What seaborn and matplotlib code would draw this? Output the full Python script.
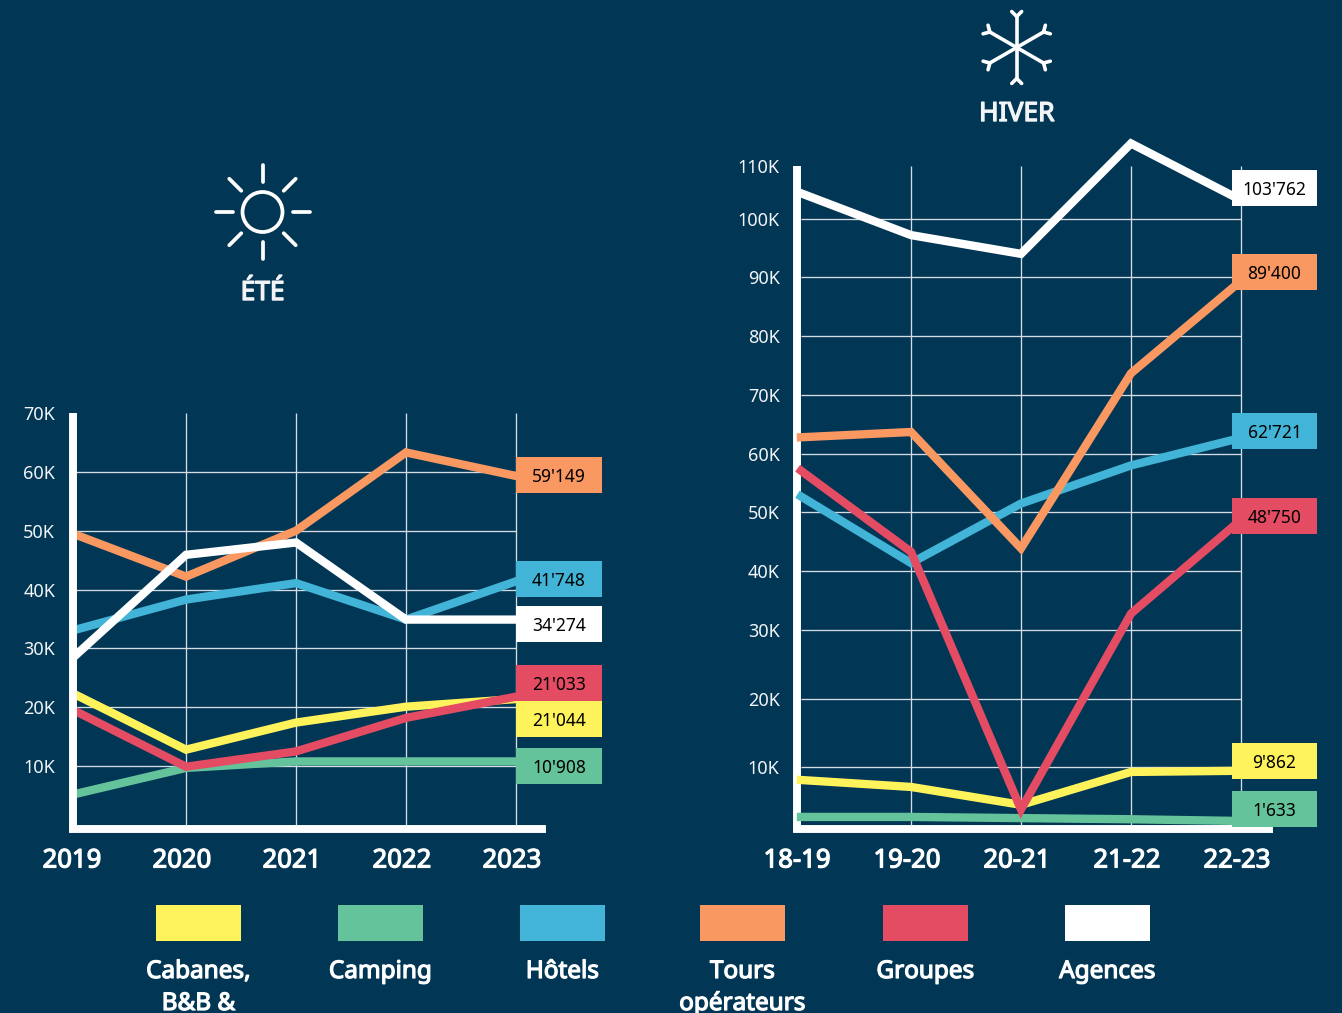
import numpy as np
import pandas as pd
import seaborn as sns
import matplotlib.pyplot as plt
import matplotlib.patheffects as pe
from matplotlib.patches import Rectangle, Circle
from matplotlib.transforms import ScaledTranslation

W, H = 1342, 1013
BG = "#013655"

series = ["Cabanes", "Camping", "Hôtels", "Tours", "Groupes", "Agences"]
colors = ["#FFF35C", "#65C39B", "#41B4D7", "#FA9862", "#E34C62", "#FFFFFF"]
legend_labels = ["Cabanes,\nB&B &", "Camping", "Hôtels", "Tours\nopérateurs", "Groupes", "Agences"]

# values in thousands
summer_years = ["2019", "2020", "2021", "2022", "2023"]
summer_cabanes = [22.1, 12.8, 17.4, 20.1, 21.4]
summer_camping = [5.3, 9.7, 10.8, 10.8, 10.8]
summer_hotels = [33.2, 38.3, 41.1, 34.9, 41.4]
summer_tours = [49.3, 42.2, 50.0, 63.3, 59.3]
summer_groupes = [19.3, 9.9, 12.5, 18.2, 21.8]
summer_agences = [28.9, 45.9, 48.0, 34.9, 34.9]
summer_ticks = [10, 20, 30, 40, 50, 60, 70]
summer_labels = ["59'149", "41'748", "34'274", "21'033", "21'044", "10'908"]
summer_label_series = ["Tours", "Hôtels", "Agences", "Groupes", "Cabanes", "Camping"]

winter_seasons = ["18-19", "19-20", "20-21", "21-22", "22-23"]
winter_cabanes = [7.8, 6.6, 3.5, 9.2, 9.4]
winter_camping = [1.4, 1.4, 1.2, 1.0, 0.7]
winter_hotels = [52.7, 41.4, 51.5, 58.0, 62.7]
winter_tours = [62.8, 63.7, 43.9, 73.7, 89.4]
winter_groupes = [57.1, 43.3, 2.7, 32.8, 48.75]
winter_agences = [104.8, 97.2, 94.0, 114.2, 103.5]
winter_ticks = [10, 20, 30, 40, 50, 60, 70, 80, 90, 100, 110]
winter_labels = ["103'762", "89'400", "62'721", "48'750", "9'862", "1'633"]
winter_label_series = ["Agences", "Tours", "Hôtels", "Groupes", "Cabanes", "Camping"]

# the winter axis of the original is not evenly spaced
winter_scale_val = [-10, 0, 10, 20, 30, 40, 50, 60, 70, 80, 90, 100, 110, 130]
winter_scale_px = [882.7, 825, 767.3, 699, 630, 571.3, 512.3, 453.7, 395, 336.3, 277.3, 218.7, 165.7, 59.7]

# top edge of the value boxes, in pixels
summer_box_top = [457, 561, 606, 665, 701, 748]
winter_box_top = [170, 254, 413, 498, 743, 791]

palette = dict(zip(series, colors))
# this Noto Sans has no bold face, thicken with a stroke instead
BOLD = [pe.withStroke(linewidth=0.9, foreground="white")]


def long_table(periods, columns):
    df = pd.DataFrame(dict(zip(series, columns)))
    df["period"] = periods
    return df.melt(id_vars="period", var_name="type", value_name="value")


def px_axes(left, top, right, bottom):
    return fig.add_axes([left / W, 1 - bottom / H, (right - left) / W, (bottom - top) / H])


def draw_panel(ax, df, ticks, x_px0, x_end_px, ax_left_px):
    sns.lineplot(data=df, x="period", y="value", hue="type", hue_order=series, palette=palette,
                 linewidth=6, legend=False, ax=ax, clip_on=False, sort=False,
                 solid_capstyle="projecting", solid_joinstyle="miter", zorder=3)
    ax.set_xlim((ax_left_px - x_px0) / 110, (x_end_px - x_px0) / 110)
    ax.vlines(range(1, 5), ax.get_ylim()[0], ticks[-1], color="#d5dce2", lw=0.95, zorder=1)
    ax.hlines(ticks[:-1], 0, 4, color="#d5dce2", lw=0.95, zorder=1)
    ax.set_yticks(ticks, [f"{t}K" for t in ticks])
    ax.set_xlabel("")
    ax.set_ylabel("")
    ax.tick_params(axis="both", length=0)
    ax.tick_params(axis="y", labelsize=13, labelcolor="#f2f4f6", pad=12.5)
    ax.tick_params(axis="x", labelsize=18.5, labelcolor="white", pad=14)
    for lab in ax.get_xticklabels():
        lab.set_path_effects(BOLD)
        lab.set_transform(lab.get_transform() + ScaledTranslation(-4 / 100, 0, fig.dpi_scale_trans))
    for side in ["top", "right"]:
        ax.spines[side].set_visible(False)
    for side in ["left", "bottom"]:
        ax.spines[side].set_color("white")
        ax.spines[side].set_linewidth(5.7)
        ax.spines[side].set_capstyle("projecting" if side == "bottom" else "butt")


sns.set_theme(style="dark", rc={"axes.facecolor": BG, "figure.facecolor": BG})
plt.rcParams["font.family"] = ["Noto Sans", "DejaVu Sans"]

fig = plt.figure(figsize=(W / 100, H / 100), dpi=100)

# ete
ax1 = px_axes(72.5, 413, 542, 829)
ax1.set_ylim(-0.68, 70)
draw_panel(ax1, long_table(summer_years, [summer_cabanes, summer_camping, summer_hotels,
                                          summer_tours, summer_groupes, summer_agences]),
           summer_ticks, 76, 542, 72.5)
ax1.set_ylim(-0.68, 70)
for sp in ax1.spines.values():
    sp.set_zorder(4)

# hiver
ax2 = px_axes(797, 165.7, 1269, 829)


def winter_fwd(v):
    return -np.interp(v, winter_scale_val, winter_scale_px)


def winter_inv(p):
    return np.interp(-np.asarray(p), winter_scale_px[::-1], winter_scale_val[::-1])


ax2.set_yscale("function", functions=(winter_fwd, winter_inv))
ax2.set_ylim(-0.69, 110)
draw_panel(ax2, long_table(winter_seasons, [winter_cabanes, winter_camping, winter_hotels,
                                            winter_tours, winter_groupes, winter_agences]),
           winter_ticks, 801, 1269, 797)
ax2.set_ylim(-0.69, 110)
for sp in ax2.spines.values():
    sp.set_zorder(2)

# everything else in pixel coordinates on a full overlay
ov = fig.add_axes([0, 0, 1, 1], zorder=10)
ov.set_xlim(0, W)
ov.set_ylim(H, 0)
ov.axis("off")


def value_boxes(x0, x1, tops, names, texts):
    for top, name, txt in zip(tops, names, texts):
        ov.add_patch(Rectangle((x0, top), x1 - x0, 36, fc=palette[name], ec="none"))
        ov.text((x0 + x1) / 2, top + 19.5, txt, ha="center", va="center", fontsize=12.5, color="black")


value_boxes(516, 602, summer_box_top, summer_label_series, summer_labels)
value_boxes(1232, 1317, winter_box_top, winter_label_series, winter_labels)

# legend
swatch_left = [156, 338, 520, 700, 883, 1065]
for x, c, lab in zip(swatch_left, colors, legend_labels):
    ov.add_patch(Rectangle((x, 905), 85, 36, fc=c, ec="none"))
    for i, part in enumerate(lab.split("\n")):
        ov.text(x + 42.5, 972 + 32 * i, part, ha="center", va="center", fontsize=17.5, color="white",
                path_effects=BOLD)

# sun
cx, cy = 262.5, 212
ov.add_patch(Circle((cx, cy), 20, fc="none", ec="white", lw=2.7))
for a in np.deg2rad(np.arange(0, 360, 45)):
    ov.plot([cx + 30 * np.cos(a), cx + 47 * np.cos(a)], [cy + 30 * np.sin(a), cy + 47 * np.sin(a)],
            color="white", lw=2.7, solid_capstyle="round")
ov.text(cx, 293, "ÉTÉ", ha="center", va="center", fontsize=19, color="#f2f4f6",
        path_effects=[pe.withStroke(linewidth=1, foreground="#f2f4f6")])

# snowflake
cx, cy = 1016.7, 47.5
for a in np.deg2rad(np.arange(30, 360, 60)):
    ex, ey = cx + 31 * np.cos(a), cy + 31 * np.sin(a)
    ov.plot([cx, ex], [cy, ey], color="white", lw=2.6, solid_capstyle="round")
    for d in np.deg2rad([-45, 45]):
        ov.plot([ex, ex + 7 * np.cos(a + d)], [ey, ey + 7 * np.sin(a + d)], color="white", lw=2.6,
                solid_capstyle="round")
ov.text(cx, 114, "HIVER", ha="center", va="center", fontsize=19, color="#f2f4f6",
        path_effects=[pe.withStroke(linewidth=1, foreground="#f2f4f6")])
ov.set_xlim(0, W)
ov.set_ylim(H, 0)

fig.savefig("out.png", dpi=100, facecolor=BG)
